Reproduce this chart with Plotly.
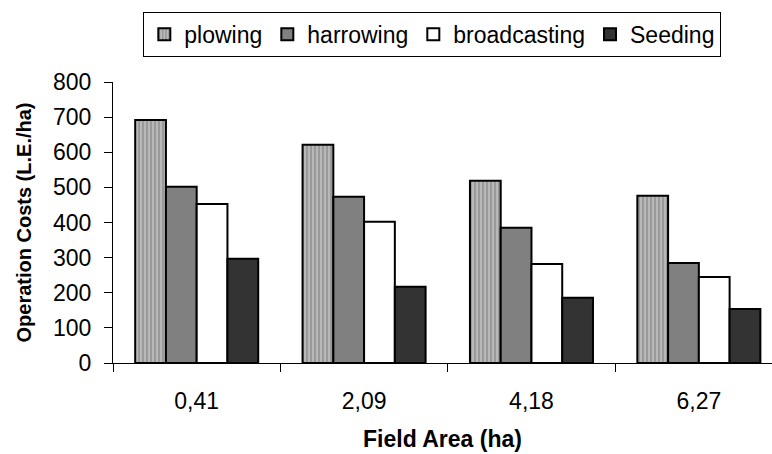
import plotly.graph_objects as go

categories = ["0,41", "2,09", "4,18", "6,27"]
plowing = [692, 621, 519, 476]
harrowing = [502, 473, 385, 285]
broadcasting = [453, 402, 282, 245]
seeding = [297, 217, 186, 154]

FONT = "Arial, Liberation Sans, sans-serif"

fig = go.Figure()
fig.add_trace(go.Bar(
    name="plowing", x=categories, y=plowing,
    marker=dict(color="#a8a8a8", line=dict(color="black", width=2),
                pattern=dict(shape="|", fgcolor="#6e6e6e", bgcolor="#b8b8b8", size=4, solidity=0.4)),
))
fig.add_trace(go.Bar(
    name="harrowing", x=categories, y=harrowing,
    marker=dict(color="#808080", line=dict(color="black", width=2)),
))
fig.add_trace(go.Bar(
    name="broadcasting", x=categories, y=broadcasting,
    marker=dict(color="#ffffff", line=dict(color="black", width=2)),
))
fig.add_trace(go.Bar(
    name="Seeding", x=categories, y=seeding,
    marker=dict(color="#333333", line=dict(color="black", width=2)),
))

fig.update_layout(
    width=772, height=454,
    margin=dict(l=113, r=0, t=82, b=91, pad=0),
    paper_bgcolor="white", plot_bgcolor="white",
    barmode="group", bargap=0.265, bargroupgap=0,
    font=dict(family=FONT, size=22, color="black"),
    legend=dict(
        orientation="h", x=0.046, y=1.25, xanchor="left", yanchor="top",
        bordercolor="black", borderwidth=1, bgcolor="white",
        font=dict(family=FONT, size=23, color="black"),
        traceorder="normal", itemwidth=30,
    ),
    xaxis=dict(
        type="category", range=[-0.5, 3.437],
        showline=True, linecolor="black", linewidth=1,
        ticks="outside", ticklen=8, tickcolor="black", tickson="boundaries",
        tickfont=dict(family=FONT, size=23), ticklabelstandoff=17,
        showgrid=False, zeroline=False,
        title=dict(text="<b>Field Area (ha)</b>", font=dict(family=FONT, size=23), standoff=18),
    ),
    yaxis=dict(
        range=[0, 800], dtick=100,
        showline=True, linecolor="black", linewidth=1,
        ticks="outside", ticklen=8, tickcolor="black",
        tickfont=dict(family=FONT, size=23), ticklabelstandoff=8,
        showgrid=False, zeroline=False,
        title=dict(text="<b>Operation Costs (L.E./ha)</b>", font=dict(family=FONT, size=20), standoff=16),
    ),
)

fig.write_html("out.html")
